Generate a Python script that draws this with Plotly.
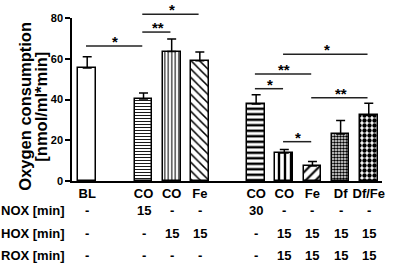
import plotly.graph_objects as go

# ---------------- data ----------------
categories = ["BL", "CO", "CO", "Fe", "CO", "CO", "Fe", "Df", "Df/Fe"]
positions = [0, 2, 3, 4, 6, 7, 8, 9, 10]
values = [55.4, 40.2, 63.5, 59.0, 37.8, 13.7, 7.4, 23.1, 32.3]
errors = [5.6, 3.0, 6.2, 4.3, 4.5, 1.7, 2.2, 6.6, 5.8]
y_ticks = [0, 20, 40, 60, 80]

row_labels = ["NOX [min]", "HOX [min]", "ROX [min]"]
nox = ["-", "15", "-", "-", "30", "-", "-", "-", "-"]
hox = ["-", "-", "15", "15", "-", "15", "15", "15", "15"]
rox = ["-", "-", "-", "-", "-", "15", "15", "15", "15"]

# significance brackets: (bar index a, bar index b, height, label)
sig_a = [0, 1, 1, 5, 4, 4, 6, 5]
sig_b = [1, 2, 3, 8, 6, 5, 8, 6]
sig_h = [66.2, 73.1, 81.8, 62.2, 52.5, 45.3, 40.8, 19.3]
sig_lbl = ["*", "**", "*", "*", "**", "*", "**", "*"]

# ---------------- styles ----------------
shapes_ = ["", "-", "|", "\\", "-", "|", "/", ".", "."]
sizes_ = [8, 3, 3.5, 6, 5.5, 6, 7, 3, 5]
solid_ = [0.3, 0.3, 0.3, 0.25, 0.45, 0.4, 0.3, 0.6, 0.6]

FONT = "Liberation Sans"
XR = [-0.54, 10.47]
YR = [0, 80]


def xp(v):
    return (v - XR[0]) / (XR[1] - XR[0])


def yp(v):
    return (v - YR[0]) / (YR[1] - YR[0])


fig = go.Figure()
fig.add_trace(go.Bar(
    x=positions, y=values, width=0.63,
    marker=dict(
        color="white",
        line=dict(color="black", width=1.5),
        pattern=dict(shape=shapes_, size=sizes_, solidity=solid_,
                     fgcolor="black", bgcolor="white", fillmode="replace"),
    ),
    error_y=dict(type="data", symmetric=False, array=errors,
                 arrayminus=[0] * len(errors), color="black",
                 thickness=1.5, width=4.5),
    showlegend=False,
))

shapes = []
annotations = []
for a, b, h, lbl in zip(sig_a, sig_b, sig_h, sig_lbl):
    xa, xb = positions[a], positions[b]
    shapes.append(dict(type="line", xref="paper", yref="paper",
                       x0=xp(xa) - 0.004, x1=xp(xb) - 0.004, y0=yp(h), y1=yp(h),
                       line=dict(color="#222222", width=1.5)))
    annotations.append(dict(xref="paper", yref="paper",
                            x=xp((xa + xb) / 2), y=yp(h), text="<b>%s</b>" % lbl,
                            showarrow=False, xanchor="center",
                            yanchor="bottom", yshift=-6,
                            font=dict(family=FONT, size=15, color="#000000")))

row_y = [-0.1825, -0.321, -0.46]
for lab, vals, ry in zip(row_labels, [nox, hox, rox], row_y):
    annotations.append(dict(xref="paper", yref="paper", x=0, y=ry,
                            xanchor="right", xshift=-5, yanchor="middle",
                            text="<b>%s</b>" % lab, showarrow=False,
                            font=dict(family=FONT, size=13, color="black")))
    for p, v in zip(positions, vals):
        annotations.append(dict(xref="paper", yref="paper", x=xp(p), y=ry,
                                xanchor="center", yanchor="middle",
                                text="<b>%s</b>" % v, showarrow=False,
                                font=dict(family=FONT, size=13, color="black")))

# y-axis title (two lines)
annotations.append(dict(xref="paper", yref="paper", x=0, y=0.456, xshift=-47,
                        xanchor="center", yanchor="middle",
                        textangle=-90, text="<b>Oxygen consumption</b>",
                        showarrow=False,
                        font=dict(family=FONT, size=16.5, color="black")))
annotations.append(dict(xref="paper", yref="paper", x=0, y=0.456, xshift=-31,
                        xanchor="center", yanchor="middle",
                        textangle=-90, text="<b>[nmol/ml*min]</b>",
                        showarrow=False,
                        font=dict(family=FONT, size=16.5, color="black")))

fig.update_layout(
    width=397, height=268,
    margin=dict(l=72, r=12, t=15, b=87),
    paper_bgcolor="white", plot_bgcolor="white",
    shapes=shapes, annotations=annotations,
    xaxis=dict(range=XR, tickvals=positions, ticktext=categories,
               showline=True, linecolor="black", linewidth=1.5,
               ticks="", showgrid=False, zeroline=False,
               tickfont=dict(family=FONT, size=13, color="black", weight="bold")),
    yaxis=dict(range=YR, tickvals=y_ticks,
               ticktext=["<b>%d</b>" % t for t in y_ticks],
               showticklabels=True,
               showline=True, linecolor="black", linewidth=1.5,
               ticks="outside", ticklen=5, tickwidth=1.5, tickcolor="black",
               showgrid=False, zeroline=False,
               tickfont=dict(family=FONT, size=11, color="black")),
    bargap=0,
)

fig.write_html("out.html", config={"displayModeBar": False},
               post_script="document.body.style.margin='0';"
                           "document.body.style.overflow='hidden';")
